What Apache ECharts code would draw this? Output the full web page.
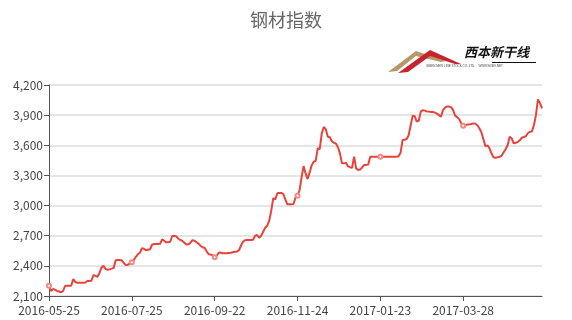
<!DOCTYPE html>
<html><head><meta charset="utf-8">
<script src="https://cdn.jsdelivr.net/npm/echarts@6/dist/echarts.min.js"></script>
<style>html,body{margin:0;padding:0;background:#fff}#c{width:572px;height:320px}</style>
</head><body><div id="c"></div>
<script>
var startDate = '2016-05-25';
var endDate = '2017-05-25';
var holidays = ['2016-06-09','2016-06-10','2016-09-15','2016-09-16','2016-10-03','2016-10-04','2016-10-05','2016-10-06','2016-10-07','2017-01-02','2017-01-27','2017-01-30','2017-01-31','2017-02-01','2017-02-02','2017-04-03','2017-04-04','2017-05-01'];
var extraWorkdays = ['2016-10-08'];
var yTicks = [2100, 2400, 2700, 3000, 3300, 3600, 3900, 4200];
var values = [
2202,2150,2170,2160,2150,2145,2137,2150,2202,2202,
2202,2202,2269,2240,2232,2232,2232,2232,2235,2250,
2250,2252,2309,2300,2292,2330,2385,2400,2368,2362,
2365,2372,2380,2455,2458,2458,2455,2430,2408,2410,
2425,2435,2460,2490,2515,2530,2575,2570,2555,2560,
2565,2610,2617,2617,2617,2620,2664,2650,2634,2634,
2640,2697,2697,2694,2670,2657,2648,2630,2612,2614,
2630,2655,2650,2635,2622,2600,2585,2580,2545,2515,
2512,2505,2485,2500,2530,2532,2525,2525,2525,2528,
2530,2535,2540,2542,2555,2600,2640,2655,2657,2657,
2657,2660,2700,2707,2680,2700,2740,2780,2800,2850,
2950,3075,3060,3122,3126,3126,3115,3060,3012,3012,
3012,3015,3080,3098,3150,3280,3393,3320,3264,3330,
3400,3436,3445,3570,3562,3720,3782,3760,3685,3680,
3640,3625,3617,3580,3520,3420,3420,3425,3390,3382,
3376,3486,3370,3354,3358,3380,3405,3405,3408,3486,
3486,3486,3486,3486,3486,3486,3486,3486,3486,3486,
3486,3486,3486,3490,3525,3652,3655,3662,3700,3800,
3895,3890,3835,3845,3935,3950,3945,3937,3935,3932,
3932,3925,3915,3900,3884,3950,3975,3987,3985,3980,
3950,3895,3880,3860,3820,3795,3800,3806,3808,3812,
3818,3815,3800,3770,3730,3660,3590,3600,3570,3520,
3480,3477,3480,3485,3495,3530,3560,3600,3685,3670,
3620,3625,3632,3650,3675,3682,3690,3720,3735,3738,
3800,3900,4057,4020,3968
];

function fmt(d){var m=d.getUTCMonth()+1,dd=d.getUTCDate();return d.getUTCFullYear()+'-'+(m<10?'0':'')+m+'-'+(dd<10?'0':'')+dd;}
var dates = [];
(function(){
  var d = new Date(startDate+'T00:00:00Z'), e = new Date(endDate+'T00:00:00Z');
  while (d <= e) {
    var s = fmt(d), wd = d.getUTCDay();
    if ((wd !== 0 && wd !== 6 && holidays.indexOf(s) < 0) || extraWorkdays.indexOf(s) >= 0) dates.push(s);
    d = new Date(d.getTime() + 86400000);
  }
})();

var chart = echarts.init(document.getElementById('c'));
var font = '"Microsoft YaHei","Noto Sans CJK SC","Noto Sans",sans-serif';
chart.setOption({
  animation: false,
  title: {text: '钢材指数', left: 'center', top: 6, textStyle: {color: '#666', fontSize: 18, fontWeight: 'normal', fontFamily: font}},
  grid: {left: 49, right: 30, top: 85, bottom: 24},
  xAxis: {
    type: 'category', boundaryGap: false, data: dates,
    axisLine: {lineStyle: {color: '#555'}},
    axisTick: {interval: 40, length: 5, lineStyle: {color: '#555'}},
    axisLabel: {interval: 40, color: '#444', fontSize: 12, fontFamily: font, margin: 8}
  },
  yAxis: {
    type: 'value', min: yTicks[0], max: yTicks[yTicks.length-1], interval: 300,
    axisLine: {show: true, lineStyle: {color: '#555'}},
    axisTick: {show: true, length: 5, lineStyle: {color: '#555'}},
    axisLabel: {color: '#444', fontSize: 12, fontFamily: font, margin: 6,
      formatter: function(v){return v.toLocaleString('en-US');}},
    splitLine: {lineStyle: {color: '#dcdcdc', width: 1.5}}
  },
  series: [{
    type: 'line', data: values, symbol: 'emptyCircle', symbolSize: 4,
    lineStyle: {color: '#e8433b', width: 2}, itemStyle: {color: '#f08a84', borderWidth: 1}
  }],
  graphic: [
    {type: 'polygon', shape: {points: [[388,72],[416,51],[446,61],[441,62],[416,56],[397,71]]}, style: {fill: '#b5986a'}},
    {type: 'polygon', shape: {points: [[398,73],[430,50],[461,64],[455,64],[430,56],[408,72]]}, style: {fill: '#c8232c'}},
    {type: 'text', left: 464, top: 46, style: {text: '西本新干线', fill: '#111', font: 'italic bold 13px "Noto Sans CJK SC"'}},
    {type: 'rect', shape: {x: 492, y: 62, width: 44, height: 1}, style: {fill: '#111'}},
    {type: 'text', left: 426, top: 65, style: {text: 'GIBEN NEW LINE STOCK CO.,LTD.    WWW.96369.NET', fill: '#444', font: '3px sans-serif'}}
  ]
});
</script></body></html>
